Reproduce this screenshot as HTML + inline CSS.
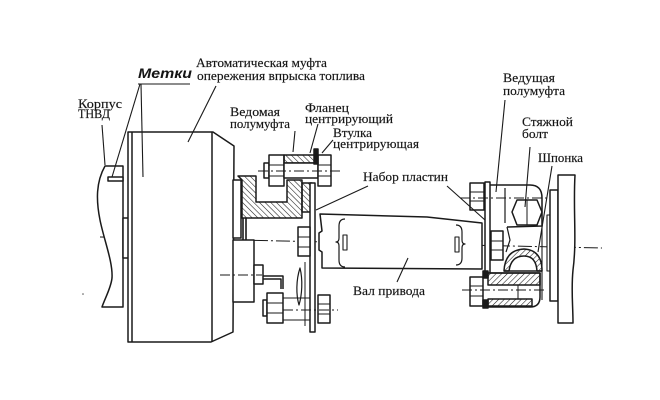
<!DOCTYPE html>
<html><head><meta charset="utf-8"><style>
html,body{margin:0;padding:0;background:#fff;}
svg{display:block;}
text{font-family:"Liberation Serif","DejaVu Serif",serif;fill:#151515;font-size:12.5px;stroke:#151515;stroke-width:0.15;}
</style></head><body>
<svg width="660" height="400" viewBox="0 0 660 400" xmlns="http://www.w3.org/2000/svg">
<defs>
<pattern id="hb" patternUnits="userSpaceOnUse" width="4" height="4" patternTransform="rotate(-45)">
<line x1="0" y1="0" x2="0" y2="4" stroke="#1a1a1a" stroke-width="1.1"/></pattern>
<pattern id="hf" patternUnits="userSpaceOnUse" width="4" height="4" patternTransform="rotate(45)">
<line x1="0" y1="0" x2="0" y2="4" stroke="#1a1a1a" stroke-width="1.1"/></pattern>
</defs>
<rect width="660" height="400" fill="#fff"/>
<g fill="none" stroke="#1a1a1a" stroke-width="1.5" stroke-linejoin="round">
<!-- center line -->
<line x1="100" y1="237" x2="602" y2="248" stroke-width="1" stroke-dasharray="14 3 2 3"/>
<!-- corpus TNVD -->
<path d="M105,166 L123,166 L123,307 L102,307 C105,298 111,288 112,278 C113,262 104,240 100,220 C96,200 96,182 105,166 Z" fill="#fff"/>
<rect x="123" y="218" width="6" height="40" fill="#fff"/>
<!-- markers -->
<rect x="108" y="177" width="15" height="4" fill="#fff"/>
<rect x="132" y="177" width="17" height="4" fill="#fff"/>
<!-- auto coupling body -->
<path d="M128,342 L128,132 L213,132 L234,146 L233,332 L211,342 Z" fill="#fff"/>
<line x1="132" y1="132" x2="132" y2="342"/>
<line x1="212" y1="132" x2="212" y2="342"/>
<rect x="233" y="180" width="8" height="58" fill="#fff"/>
<rect x="233" y="240" width="21" height="62" fill="#fff"/>
<rect x="254" y="265" width="9" height="19" fill="#fff"/>
<path d="M263,276 L283,276 L283,289 M263,279 L281,279 L281,289"/>
<line x1="220" y1="275" x2="262" y2="275" stroke-width="1" stroke-dasharray="10 3 2 3"/>
<line x1="243" y1="218" x2="243" y2="240" stroke-width="1.6"/>
<line x1="246" y1="218" x2="246" y2="240" stroke-width="1.6"/>
<!-- hub hatched -->
<path d="M238,176 L256,176 L256,202 L287,202 L287,180 L302,180 L302,218 L242,218 L242,180 Z" fill="url(#hb)"/>
<rect x="302" y="183" width="10" height="29" fill="url(#hb)"/>
<!-- top bolt -->
<rect x="264" y="163" width="5" height="15" fill="#fff"/>
<rect x="269" y="155" width="15" height="31" fill="#fff"/>
<line x1="269" y1="165" x2="284" y2="165" stroke-width="1"/>
<line x1="269" y1="176" x2="284" y2="176" stroke-width="1"/>
<rect x="284" y="155" width="31" height="8" fill="url(#hb)"/>
<rect x="284" y="163" width="34" height="15" fill="#fff"/>
<rect x="318" y="155" width="13" height="31" fill="#fff"/>
<line x1="318" y1="165" x2="331" y2="165" stroke-width="1"/>
<line x1="318" y1="176" x2="331" y2="176" stroke-width="1"/>
<rect x="314" y="149" width="4" height="15" fill="#1a1a1a"/>
<line x1="258" y1="171" x2="340" y2="171" stroke-width="1" stroke-dasharray="10 3 2 3"/>
<!-- plate pack left -->
<rect x="310" y="183" width="5" height="149" fill="#fff"/>
<rect x="298" y="227" width="12" height="29" fill="#fff"/>
<line x1="298" y1="237" x2="310" y2="237" stroke-width="1"/>
<line x1="298" y1="247" x2="310" y2="247" stroke-width="1"/>
<path d="M300,268 C296,280 296,295 299,305 C302,295 303,280 300,268 Z" stroke-width="1.2"/>
<line x1="305" y1="262" x2="305" y2="326" stroke-width="1"/>
<!-- bottom bolt -->
<rect x="263" y="300" width="4" height="16" fill="#fff"/>
<rect x="267" y="293" width="16" height="30" fill="#fff"/>
<line x1="267" y1="303" x2="283" y2="303" stroke-width="1"/>
<line x1="267" y1="313" x2="283" y2="313" stroke-width="1"/>
<line x1="283" y1="298" x2="310" y2="298" stroke-width="1"/>
<line x1="283" y1="320" x2="310" y2="320" stroke-width="1"/>
<rect x="318" y="295" width="12" height="28" fill="#fff"/>
<line x1="318" y1="304" x2="330" y2="304" stroke-width="1"/>
<line x1="318" y1="314" x2="330" y2="314" stroke-width="1"/>
<line x1="283" y1="310" x2="338" y2="310" stroke-width="1" stroke-dasharray="10 3 2 3"/>
<!-- drive shaft -->
<path d="M320,214 L427,217 L482,223 L482,269 L322,268 L322,252 L319,250 L319,233 L322,231 Z" fill="#fff"/>
<path d="M345,219 Q339,219 339,226 L339,238 Q339,242 336,242 Q339,242 339,246 L339,260 Q339,267 345,267" stroke-width="1.2"/>
<rect x="343" y="235" width="4" height="15" fill="#fff" stroke-width="1.1"/>
<path d="M456,225 Q462,225 462,232 L462,240 Q462,244 465,244 Q462,244 462,248 L462,258 Q462,265 456,265" stroke-width="1.2"/>
<rect x="455" y="237" width="4" height="15" fill="#fff" stroke-width="1.1"/>
<!-- right side -->
<rect x="485" y="182" width="5" height="93" fill="#fff"/>
<rect x="470" y="183" width="14" height="27" fill="#fff"/>
<line x1="470" y1="192" x2="484" y2="192" stroke-width="1"/>
<line x1="470" y1="201" x2="484" y2="201" stroke-width="1"/>
<path d="M490,185 L530,185 Q542,185 542,198 L542,226 L507,227"/>
<line x1="505" y1="188" x2="505" y2="223" stroke-width="1.2"/>
<polygon points="512,212 517,200 537,200 542,212 537,225 517,225" fill="#fff"/>
<line x1="527" y1="200" x2="527" y2="225" stroke-width="1"/>
<line x1="460" y1="198" x2="548" y2="198" stroke-width="1" stroke-dasharray="10 3 2 3"/>
<path d="M507,227 L510,240 L506,252" stroke-width="1.2"/>
<rect x="491" y="231" width="12" height="29" fill="#fff"/>
<line x1="491" y1="241" x2="503" y2="241" stroke-width="1"/>
<line x1="491" y1="250" x2="503" y2="250" stroke-width="1"/>
<path d="M504,271 Q505,250 524,249 Q542,250 542,271 L537,271 Q536,256 524,256 Q511,256 509,271 Z" fill="url(#hf)"/>
<line x1="504" y1="271" x2="542" y2="271"/>
<!-- bottom sleeve -->
<path d="M487,273 L540,273 L540,297 Q540,307 530,307 L487,307" fill="#fff"/>
<rect x="488" y="273" width="52" height="12" fill="url(#hf)"/>
<rect x="488" y="299" width="44" height="7" fill="url(#hf)"/>
<line x1="518" y1="285" x2="518" y2="299" stroke-width="1"/>
<rect x="470" y="277" width="13" height="29" fill="#fff"/>
<line x1="470" y1="286" x2="483" y2="286" stroke-width="1"/>
<line x1="470" y1="296" x2="483" y2="296" stroke-width="1"/>
<rect x="483" y="271" width="5" height="7" fill="#1a1a1a"/>
<rect x="483" y="300" width="5" height="8" fill="#1a1a1a"/>
<line x1="462" y1="290" x2="545" y2="290" stroke-width="1" stroke-dasharray="10 3 2 3"/>
<!-- engine flange -->
<line x1="542" y1="200" x2="542" y2="300" stroke-width="1.1"/>
<rect x="547" y="215" width="3" height="56" fill="#fff" stroke-width="1.1"/>
<rect x="550" y="190" width="8" height="111" fill="#fff"/>
<path d="M558,175 L575,175 C573,210 577,240 573,270 C571,290 573,305 573,323 L558,323 Z" fill="#fff"/>
</g>
<!-- leaders -->
<g stroke="#1a1a1a" stroke-width="1.1" fill="none">
<line x1="138" y1="84" x2="190" y2="84"/>
<line x1="140" y1="84" x2="112" y2="177"/>
<line x1="141" y1="84" x2="143" y2="177"/>
<line x1="102" y1="125" x2="105" y2="165"/>
<line x1="216" y1="86" x2="188" y2="142"/>
<line x1="295" y1="131" x2="293" y2="152"/>
<line x1="318" y1="124" x2="310" y2="153"/>
<line x1="333" y1="140" x2="322" y2="153"/>
<line x1="368" y1="186" x2="316" y2="210"/>
<line x1="447" y1="186" x2="485" y2="220"/>
<line x1="397" y1="282" x2="408" y2="258"/>
<line x1="505" y1="100" x2="496" y2="192"/>
<line x1="530" y1="147" x2="525" y2="207"/>
<line x1="552" y1="166" x2="538" y2="252"/>
</g>
<circle cx="83" cy="294" r="0.8" fill="#555"/>
<!-- labels -->
<text x="196" y="67" textLength="131" lengthAdjust="spacingAndGlyphs">Автоматическая муфта</text>
<text x="197" y="80" textLength="168" lengthAdjust="spacingAndGlyphs">опережения впрыска топлива</text>
<text x="138" y="78" textLength="54" lengthAdjust="spacingAndGlyphs" style="font-family:'Liberation Sans',sans-serif;font-weight:bold;font-style:italic;font-size:14px;stroke:none;">Метки</text>
<text x="78" y="108" textLength="44" lengthAdjust="spacingAndGlyphs">Корпус</text>
<text x="78" y="118" textLength="32" lengthAdjust="spacingAndGlyphs">ТНВД</text>
<text x="230" y="116" textLength="50" lengthAdjust="spacingAndGlyphs">Ведомая</text>
<text x="230" y="128" textLength="60" lengthAdjust="spacingAndGlyphs">полумуфта</text>
<text x="305" y="112" textLength="44" lengthAdjust="spacingAndGlyphs">Фланец</text>
<text x="305" y="123" textLength="88" lengthAdjust="spacingAndGlyphs">центрирующий</text>
<text x="333" y="137" textLength="39" lengthAdjust="spacingAndGlyphs">Втулка</text>
<text x="333" y="148" textLength="86" lengthAdjust="spacingAndGlyphs">центрирующая</text>
<text x="363" y="181" textLength="85" lengthAdjust="spacingAndGlyphs">Набор пластин</text>
<text x="353" y="295" textLength="72" lengthAdjust="spacingAndGlyphs">Вал привода</text>
<text x="503" y="82" textLength="52" lengthAdjust="spacingAndGlyphs">Ведущая</text>
<text x="503" y="95" textLength="62" lengthAdjust="spacingAndGlyphs">полумуфта</text>
<text x="522" y="126" textLength="51" lengthAdjust="spacingAndGlyphs">Стяжной</text>
<text x="522" y="138" textLength="26" lengthAdjust="spacingAndGlyphs">болт</text>
<text x="538" y="162" textLength="45" lengthAdjust="spacingAndGlyphs">Шпонка</text>
</svg>
</body></html>
